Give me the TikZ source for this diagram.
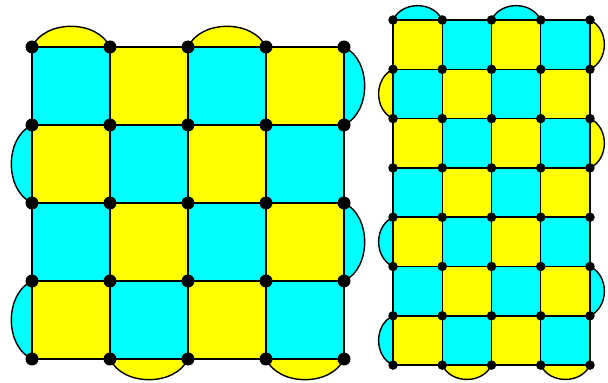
\documentclass[tikz,border=0pt]{standalone}
\usetikzlibrary{calc}
\definecolor{aqua}{RGB}{0,255,255}
\definecolor{lemon}{RGB}{255,255,0}

\begin{document}
\begin{tikzpicture}[
  x = 0.02cm, y = 0.02cm,
  edge/.style     = {draw=black, line width=0.8pt},
  bump/.style     = {draw=black, line width=0.8pt, fill=#1},
  bigdot/.style   = {circle, fill=black, inner sep=0pt, minimum size=0.26cm},
  smalldot/.style = {circle, fill=black, inner sep=0pt, minimum size=0.19cm},
]
\useasboundingbox (0,0) rectangle (608,382);

% ── Left board: 4 x 4 ────────────────────────────────────────────────────────
\foreach \c in {0,...,4}
  \foreach \r in {0,...,4}
    \coordinate (L-\c-\r) at ({32+78*\c},{335-78*\r});

\foreach \c in {0,...,3}
  \foreach \r in {0,...,3} {
    \pgfmathtruncatemacro\cc{\c+1}
    \pgfmathtruncatemacro\rr{\r+1}
    \pgfmathtruncatemacro\odd{mod(\c+\r,2)}
    \ifnum\odd=0 \def\tint{aqua}\else\def\tint{lemon}\fi
    \fill[\tint] (L-\c-\r) rectangle (L-\cc-\rr);
  }

\foreach \from/\to/\tint in {L-0-0/L-1-0/lemon, L-2-0/L-3-0/lemon,
                             L-4-0/L-4-1/aqua,  L-4-2/L-4-3/aqua,
                             L-2-4/L-1-4/lemon, L-4-4/L-3-4/lemon,
                             L-0-2/L-0-1/aqua,  L-0-4/L-0-3/aqua}
  \draw[bump=\tint] (\from) to[bend left=65] (\to) -- cycle;

\foreach \i in {0,...,4} {
  \draw[edge] (L-0-\i) -- (L-4-\i);
  \draw[edge] (L-\i-0) -- (L-\i-4);
}

\foreach \c in {0,...,4}
  \foreach \r in {0,...,4}
    \node[bigdot] (Ld-\c-\r) at (L-\c-\r) {};

% ── Right board: 4 x 7 ───────────────────────────────────────────────────────
\foreach \c in {0,...,4}
  \foreach \r in {0,...,7}
    \coordinate (R-\c-\r) at ({393+49.25*\c},{362-49.3*\r});

\foreach \c in {0,...,3}
  \foreach \r in {0,...,6} {
    \pgfmathtruncatemacro\cc{\c+1}
    \pgfmathtruncatemacro\rr{\r+1}
    \pgfmathtruncatemacro\odd{mod(\c+\r,2)}
    \ifnum\odd=0 \def\tint{lemon}\else\def\tint{aqua}\fi
    \fill[\tint] (R-\c-\r) rectangle (R-\cc-\rr);
  }

\foreach \from/\to/\tint in {R-0-0/R-1-0/aqua,  R-2-0/R-3-0/aqua,
                             R-4-0/R-4-1/lemon, R-4-2/R-4-3/lemon,
                             R-4-5/R-4-6/aqua,
                             R-2-7/R-1-7/lemon, R-4-7/R-3-7/lemon,
                             R-0-2/R-0-1/lemon, R-0-5/R-0-4/aqua,
                             R-0-7/R-0-6/aqua}
  \draw[bump=\tint] (\from) to[bend left=65, looseness=1.1] (\to) -- cycle;

\foreach \i in {0,...,4}
  \draw[edge] (R-\i-0) -- (R-\i-7);
\foreach \i in {0,...,7}
  \draw[edge] (R-0-\i) -- (R-4-\i);

\foreach \c in {0,...,4}
  \foreach \r in {0,...,7}
    \node[smalldot] (Rd-\c-\r) at (R-\c-\r) {};

\end{tikzpicture}
\end{document}
